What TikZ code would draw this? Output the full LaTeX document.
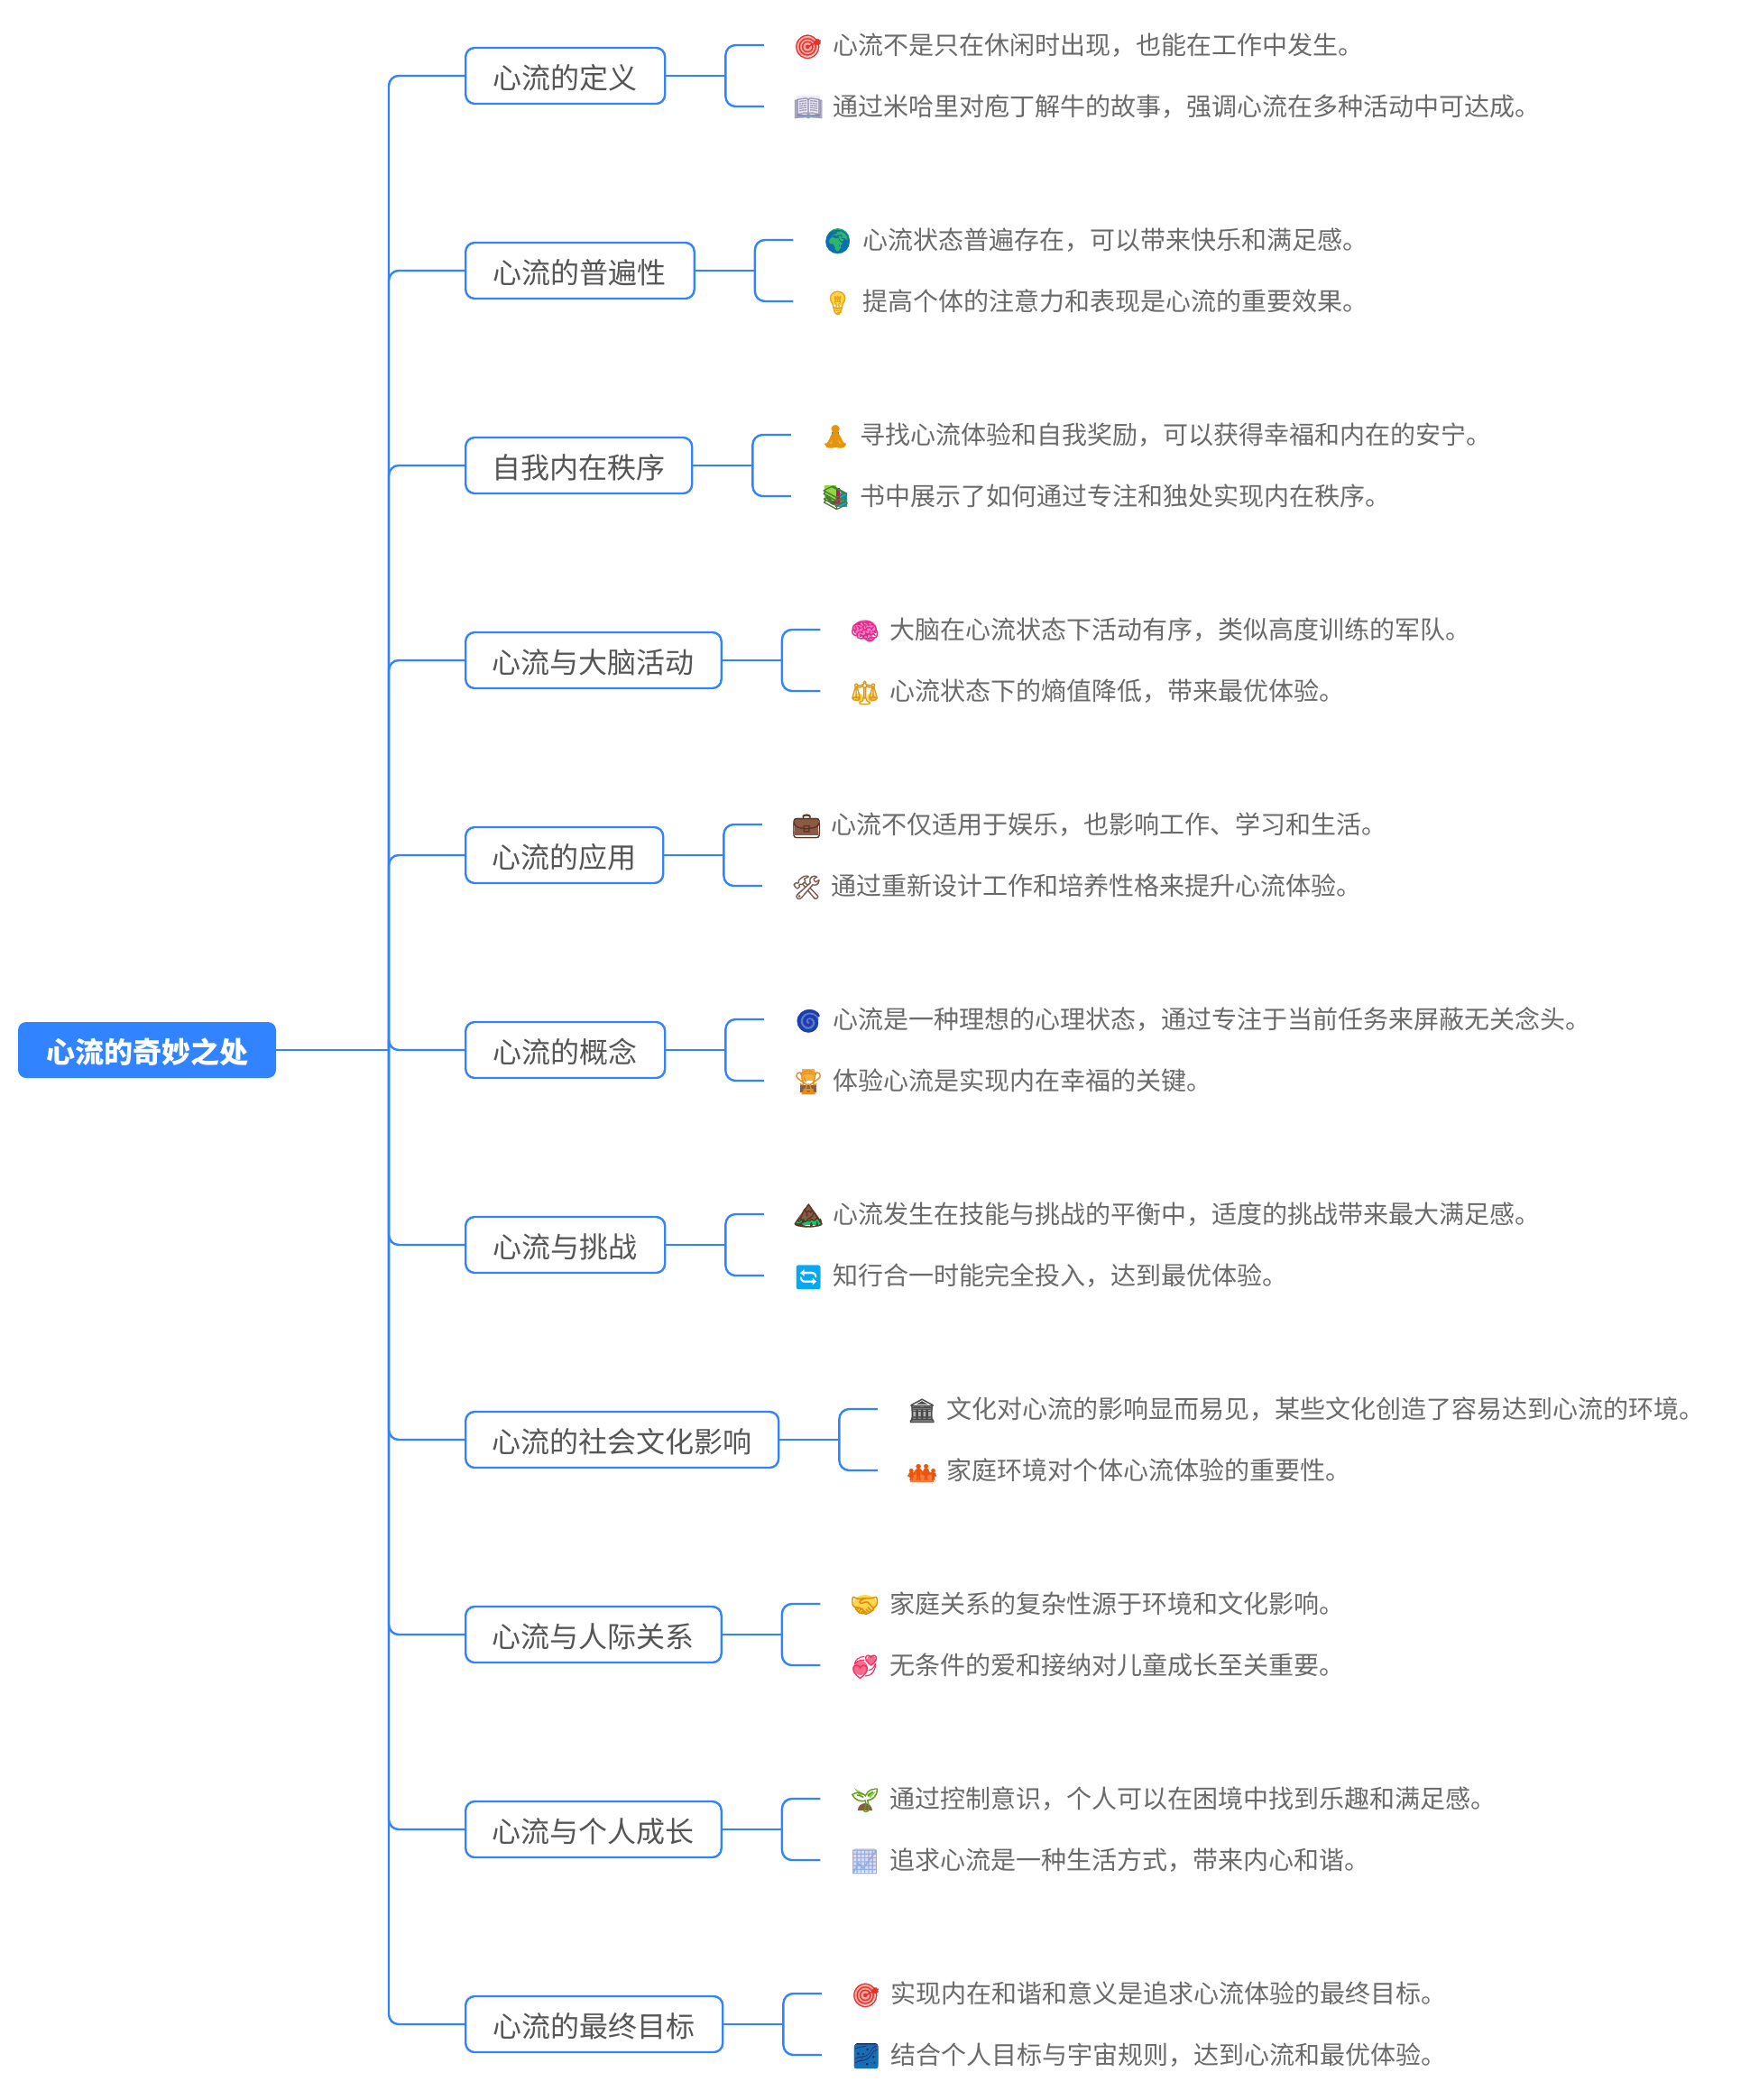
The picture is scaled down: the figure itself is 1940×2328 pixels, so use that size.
\documentclass[tikz,border=0pt]{standalone}
\usepackage{fontspec}
\setmainfont{Noto Sans CJK SC}
\newfontfamily\emo[FakeBold=1.2]{Noto Emoji}
\usetikzlibrary{calc}
\definecolor{mblue}{HTML}{3183FF}
\definecolor{childtxt}{HTML}{555555}
\definecolor{leaftxt}{HTML}{6A6A6A}
\definecolor{tRed}{HTML}{F7A9A3}
\definecolor{tLav}{HTML}{EFEAF6}
\definecolor{tGlobe}{HTML}{2FB56A}
\definecolor{tYel}{HTML}{FFD54A}
\definecolor{tOra}{HTML}{FBC24E}
\definecolor{tGrn}{HTML}{8FD63F}
\definecolor{tPink}{HTML}{FB7CC0}
\definecolor{tBrown}{HTML}{8A5A45}
\definecolor{tNavy}{HTML}{1A3FB0}
\definecolor{tAmb}{HTML}{FBB03B}
\definecolor{tSky}{HTML}{08A8EE}
\definecolor{tGrey}{HTML}{B5B5B5}
\definecolor{tCoral}{HTML}{FA7A35}
\definecolor{tRose}{HTML}{FA6A8E}
\definecolor{tDeep}{HTML}{2A1F50}
\definecolor{tChart}{HTML}{E0D8EC}
\definecolor{tGreen}{HTML}{12C96A}
\definecolor{tCrim}{HTML}{C2185B}
\tikzset{
  rootbox/.style={rectangle,rounded corners=9pt,fill=mblue,text=white,inner sep=0pt,minimum width=286pt,minimum height=62pt,text height=29pt,text depth=0pt,font=\fontsize{32}{36}\selectfont\bfseries},
  childbox/.style={rectangle,rounded corners=10pt,draw=mblue,line width=2.4pt,fill=white,text=childtxt,inner sep=0pt,minimum height=62pt,text height=29pt,text depth=0pt,anchor=west,font=\fontsize{32}{36}\selectfont},
  leafbox/.style={rectangle,inner sep=0pt,anchor=west,text=leaftxt,text height=24pt,text depth=2.5pt,font=\fontsize{28}{32}\selectfont},
  link/.style={draw=mblue,line width=2.4pt},
  roundlink/.style={link,rounded corners=11pt}
}
% name, y, right edge, label
\newcommand\mbranch[4]{%
  \node[childbox,minimum width={#3-515}] (#1) at (515,#2) {#4};
  \draw[roundlink] (hub) |- (#1.west);
  \coordinate (#1j) at ($(#1.east)+(66,0)$);
  \draw[link] (#1.east) -- (#1j);
}
% [backing], name, parent, dy, colour, emoji, text
\newcommand\mleaf[7][]{%
  \begin{scope}[shift={($(#3.east)+(158,#4)$)}] #1 \end{scope}
  \node[leafbox] (#2) at ($(#3.east)+(108.5,#4)$) {\hspace{32.5pt}\makebox[44pt][l]{\raisebox{0pt}{\textcolor[HTML]{#5}{\emo\fontsize{26}{30}\selectfont #6}}}#7};
  \draw[roundlink] (#3j) |- (#2.west);
}
\begin{document}
\begin{tikzpicture}[x=1pt,y=-1pt]
\useasboundingbox (0,0) rectangle (1940,2328);
\node[rootbox] (root) at (163,1164) {心流的奇妙之处};
\coordinate (hub) at (431,1164);
\draw[link] (root.east) -- (hub);

\mbranch{c1}{84}{736}{心流的定义}
\mleaf[{\fill[tRed] (-1.5,1.5) circle (11.5);}]{a1}{c1}{-34}{E8302A}{🎯}{心流不是只在休闲时出现，也能在工作中发生。}
\mleaf[{\fill[tLav] (-13,-12) rectangle (13,9); \fill[tSky] (-13,9) rectangle (13,12);}]{a2}{c1}{34}{9D9AB8}{📖}{通过米哈里对庖丁解牛的故事，强调心流在多种活动中可达成。}

\mbranch{c2}{300}{768.5}{心流的普遍性}
\mleaf[{\fill[tGlobe] (0,0) circle (13);}]{b1}{c2}{-34}{0A6FB0}{🌍}{心流状态普遍存在，可以带来快乐和满足感。}
\mleaf[{\fill[tYel] (0,-3) circle (8);}]{b2}{c2}{34}{E8A317}{💡}{提高个体的注意力和表现是心流的重要效果。}

\mbranch{c3}{516}{766}{自我内在秩序}
\mleaf[{\fill[tOra] (-11,11) -- (0,-6) -- (11,11) -- cycle; \fill[tSky] (-4,-3) rectangle (4,5);}]{d1}{c3}{-34}{E8930C}{🧘}{寻找心流体验和自我奖励，可以获得幸福和内在的安宁。}
\mleaf[{\fill[tSky] (0,-4) rectangle (13,12); \fill[tCrim] (-5,-9) rectangle (5,9); \fill[tGrn] (-12,-12) rectangle (1,5);}]{d2}{c3}{34}{4A7A3A}{📚}{书中展示了如何通过专注和独处实现内在秩序。}

\mbranch{c4}{732}{798.5}{心流与大脑活动}
\mleaf[{\fill[tPink] (0,-1) ellipse (13 and 10);}]{e1}{c4}{-34}{E0268A}{🧠}{大脑在心流状态下活动有序，类似高度训练的军队。}
\mleaf[{\fill[tYel] (-7,7) circle (5) (7,7) circle (5);}]{e2}{c4}{34}{D99A20}{⚖}{心流状态下的熵值降低，带来最优体验。}

\mbranch{c5}{948}{734}{心流的应用}
\mleaf[{\fill[tBrown] (-13,-7) rectangle (13,12);}]{f1}{c5}{-34}{5A3525}{💼}{心流不仅适用于娱乐，也影响工作、学习和生活。}
\mleaf{f2}{c5}{34}{7E5A50}{🛠}{通过重新设计工作和培养性格来提升心流体验。}

\mbranch{c6}{1164}{736}{心流的概念}
\mleaf[{\fill[tNavy!70] (0,0) circle (11);}]{g1}{c6}{-34}{1A3FB0}{🌀}{心流是一种理想的心理状态，通过专注于当前任务来屏蔽无关念头。}
\mleaf[{\fill[tAmb] (-7,-13) rectangle (7,0); \fill[tBrown] (-9,5) rectangle (9,13);}]{g2}{c6}{34}{E09020}{🏆}{体验心流是实现内在幸福的关键。}

\mbranch{c7}{1380}{736}{心流与挑战}
\mleaf[{\fill[tBrown] (-13,6) -- (0,-12) -- (13,6) -- cycle; \fill[tGreen] (-13,6) rectangle (13,12);}]{h1}{c7}{-34}{5A3525}{🏔}{心流发生在技能与挑战的平衡中，适度的挑战带来最大满足感。}
\mleaf{h2}{c7}{34}{08A8EE}{🔄}{知行合一时能完全投入，达到最优体验。}

\mbranch{c8}{1596}{862}{心流的社会文化影响}
\mleaf[{\fill[tGrey] (-12,-3) rectangle (12,12);}]{i1}{c8}{-34}{4A4A4A}{🏛}{文化对心流的影响显而易见，某些文化创造了容易达到心流的环境。}
\mleaf[{\fill[tCoral] (-13,2) rectangle (13,13);}]{i2}{c8}{34}{E85510}{👪}{家庭环境对个体心流体验的重要性。}

\mbranch{c9}{1812}{798.5}{心流与人际关系}
\mleaf[{\fill[tYel] (0,0) ellipse (13 and 10);}]{j1}{c9}{-34}{D98A10}{🤝}{家庭关系的复杂性源于环境和文化影响。}
\mleaf[{\fill[tRose] (-5,3) circle (8) (7,-6) circle (5);}]{j2}{c9}{34}{F52F62}{💞}{无条件的爱和接纳对儿童成长至关重要。}

\mbranch{c10}{2028}{798.5}{心流与个人成长}
\mleaf[{\fill[tBrown] (-8,13) arc (180:360:8); \fill[tGrn] (-12,-12) -- (-1,-5) -- (-6,-3) -- cycle (12,-8) -- (1,-5) -- (6,-1) -- cycle;}]{k1}{c10}{-34}{5C9A20}{🌱}{通过控制意识，个人可以在困境中找到乐趣和满足感。}
\mleaf[{\fill[tChart,rounded corners=3pt] (-13,-13) rectangle (13,13);}]{k2}{c10}{34}{8FAEE4}{📈}{追求心流是一种生活方式，带来内心和谐。}

\mbranch{c11}{2244}{800}{心流的最终目标}
\mleaf[{\fill[tRed] (-1.5,1.5) circle (11.5);}]{l1}{c11}{-34}{E8302A}{🎯}{实现内在和谐和意义是追求心流体验的最终目标。}
\mleaf[{\fill[tDeep,rounded corners=3pt] (-13,-13) rectangle (13,13);}]{l2}{c11}{34}{1670B8}{🌌}{结合个人目标与宇宙规则，达到心流和最优体验。}
\end{tikzpicture}
\end{document}
